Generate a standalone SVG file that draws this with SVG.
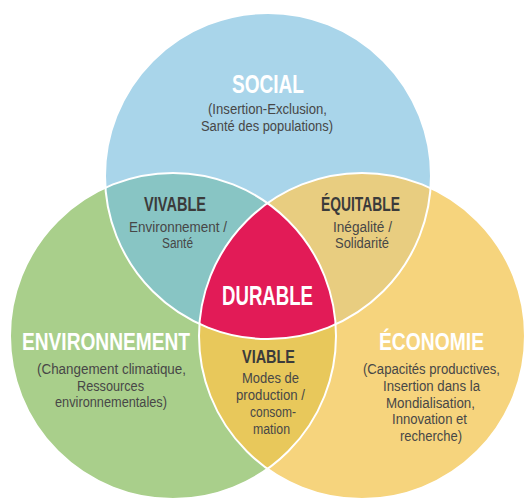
<svg xmlns="http://www.w3.org/2000/svg" width="524" height="499" viewBox="0 0 524 499">
<style>
.ttl{font-family:"Liberation Sans",Arial,sans-serif;font-weight:bold;fill:#ffffff;text-anchor:middle}
.sub{font-family:"Liberation Sans",Arial,sans-serif;font-weight:bold;fill:#3b3b3b;text-anchor:middle}
.txt{font-family:"Liberation Sans",Arial,sans-serif;font-size:14px;fill:#474747;text-anchor:middle}
.edge{fill:none;stroke:#ffffff;stroke-width:2}
</style>
<rect width="524" height="499" fill="#ffffff"/>
<g id="social">
<circle cx="268" cy="176" r="163" fill="#a9d5ea"/>
</g>
<g id="environnement">
<circle cx="173" cy="336" r="163" fill="#a9cf8b"/>
</g>
<g id="economie">
<circle cx="362" cy="336" r="163" fill="#f6d47d"/>
</g>
<g id="vivable">
<path d="M105.3,187.6 A163,163 0 0 1 267.5,203.2 A163,163 0 0 0 199.8,323.7 A163,163 0 0 1 105.3,187.6 Z" fill="#88c5c4"/>
</g>
<g id="equitable">
<path d="M430.2,188.3 A163,163 0 0 0 267.5,203.2 A163,163 0 0 1 335.7,324.4 A163,163 0 0 0 430.2,188.3 Z" fill="#e8cd80"/>
</g>
<g id="viable">
<path d="M199.8,323.7 A163,163 0 0 0 335.7,324.4 A163,163 0 0 1 267.5,468.8 A163,163 0 0 1 199.8,323.7 Z" fill="#e8c85b"/>
</g>
<g id="durable">
<path d="M267.5,203.2 A163,163 0 0 1 335.7,324.4 A163,163 0 0 1 199.8,323.7 A163,163 0 0 1 267.5,203.2 Z" fill="#e21b57"/>
</g>
<g id="connectors">
<circle class="edge" cx="268" cy="176" r="163"/>
<circle class="edge" cx="173" cy="336" r="163"/>
<circle class="edge" cx="362" cy="336" r="163"/>
</g>
<g id="labels">
<text class="ttl" x="268" y="92.5" font-size="26" textLength="72" lengthAdjust="spacingAndGlyphs">SOCIAL</text>
<text class="txt" x="267.5" y="114" textLength="119" lengthAdjust="spacingAndGlyphs">(Insertion-Exclusion,</text>
<text class="txt" x="267" y="130.5" textLength="132" lengthAdjust="spacingAndGlyphs">Santé des populations)</text>

<text class="sub" x="175" y="211" font-size="19.5" textLength="62" lengthAdjust="spacingAndGlyphs">VIVABLE</text>
<text class="txt" x="178" y="232" textLength="98" lengthAdjust="spacingAndGlyphs">Environnement /</text>
<text class="txt" x="177.5" y="247.5" textLength="31" lengthAdjust="spacingAndGlyphs">Santé</text>

<text class="sub" x="360.5" y="211" font-size="19.5" textLength="79" lengthAdjust="spacingAndGlyphs">ÉQUITABLE</text>
<text class="txt" x="362.5" y="232" textLength="59" lengthAdjust="spacingAndGlyphs">Inégalité /</text>
<text class="txt" x="362" y="247.5" textLength="54" lengthAdjust="spacingAndGlyphs">Solidarité</text>

<text class="ttl" x="267.5" y="305" font-size="28" textLength="91" lengthAdjust="spacingAndGlyphs">DURABLE</text>

<text class="ttl" x="106" y="350" font-size="24" textLength="168" lengthAdjust="spacingAndGlyphs">ENVIRONNEMENT</text>
<text class="txt" x="111.5" y="374" textLength="149" lengthAdjust="spacingAndGlyphs">(Changement climatique,</text>
<text class="txt" x="110.5" y="390.5" textLength="67" lengthAdjust="spacingAndGlyphs">Ressources</text>
<text class="txt" x="111" y="407" textLength="112" lengthAdjust="spacingAndGlyphs">environnementales)</text>

<text class="sub" x="268.5" y="362.5" font-size="18" textLength="53" lengthAdjust="spacingAndGlyphs">VIABLE</text>
<text class="txt" x="270.5" y="382.5" textLength="57" lengthAdjust="spacingAndGlyphs">Modes de</text>
<text class="txt" x="270.5" y="400" textLength="69" lengthAdjust="spacingAndGlyphs">production /</text>
<text class="txt" x="273" y="417" textLength="46" lengthAdjust="spacingAndGlyphs">consom-</text>
<text class="txt" x="271.5" y="434" textLength="37" lengthAdjust="spacingAndGlyphs">mation</text>

<text class="ttl" x="431.5" y="350" font-size="24" textLength="105" lengthAdjust="spacingAndGlyphs">ÉCONOMIE</text>
<text class="txt" x="431.5" y="374" textLength="137" lengthAdjust="spacingAndGlyphs">(Capacités productives,</text>
<text class="txt" x="431.5" y="391" textLength="97" lengthAdjust="spacingAndGlyphs">Insertion dans la</text>
<text class="txt" x="430.5" y="407.5" textLength="89" lengthAdjust="spacingAndGlyphs">Mondialisation,</text>
<text class="txt" x="429.5" y="424" textLength="75" lengthAdjust="spacingAndGlyphs">Innovation et</text>
<text class="txt" x="431" y="440.5" textLength="62" lengthAdjust="spacingAndGlyphs">recherche)</text>
</g>
</svg>
